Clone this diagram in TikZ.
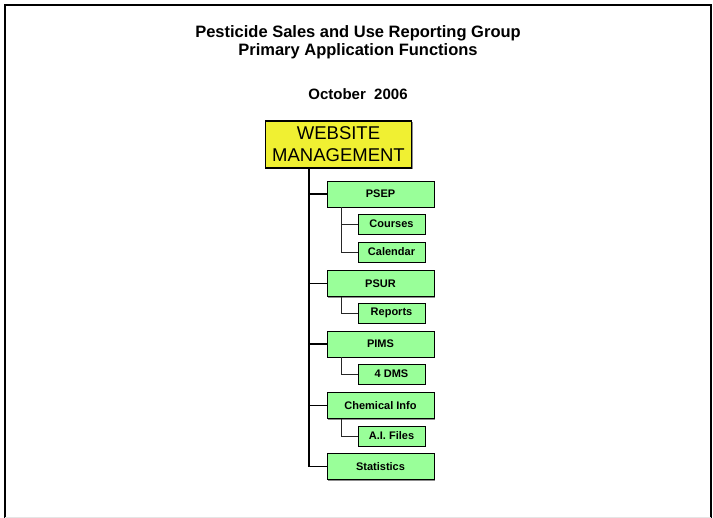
\documentclass[tikz,border=0pt]{standalone}
\usepackage{fontspec}
\setmainfont{Liberation Sans}
\usetikzlibrary{shadows}
\definecolor{boxgreen}{RGB}{153,255,153}
\definecolor{boxyellow}{RGB}{240,240,50}
\tikzset{
  shadowed/.style={drop shadow={shadow xshift=1.2pt,shadow yshift=-1.2pt,fill=black!45,opacity=1}},
  lvlone/.style={draw=black,line width=0.9pt,fill=boxgreen,shadowed,minimum width=107pt,minimum height=26pt,inner sep=0pt,font=\fontsize{11}{13}\selectfont\bfseries},
  lvltwo/.style={draw=black,line width=0.9pt,fill=boxgreen,shadowed,minimum width=67pt,minimum height=20pt,inner sep=0pt,font=\fontsize{11}{13}\selectfont\bfseries},
  topbox/.style={draw=black,line width=1.6pt,fill=boxyellow,shadowed,minimum width=146pt,minimum height=47pt,inner sep=0pt,align=center,font=\fontsize{18.5}{22}\selectfont},
  trunk/.style={line width=1.8pt,black},
  branch/.style={line width=0.9pt,black!85},
  titletext/.style={font=\fontsize{16.5}{18}\selectfont\bfseries,align=center,inner sep=0pt}
}
\begin{document}
\begin{tikzpicture}[x=1pt,y=-1pt]
\useasboundingbox (0,0) rectangle (713,518);
% frame
\draw[line width=1.8pt,black] (5,518) -- (5,5) -- (711,5) -- (711,518);
\draw[line width=0.8pt,black!10] (5,517) -- (711,517);
% titles
\node[titletext] (title) at (358,42) {Pesticide Sales and Use Reporting Group\\Primary Application Functions};
\node[font=\fontsize{15}{17}\selectfont\bfseries,inner sep=0pt] (date) at (358,94) {October\ \ 2006};
% boxes
\node[topbox] (web) at (338.5,144.5) {WEBSITE\\MANAGEMENT};
\node[lvlone] (psep) at (380.5,194) {PSEP};
\node[lvltwo] (courses) at (391.5,224) {Courses};
\node[lvltwo] (calendar) at (391.5,252) {Calendar};
\node[lvlone] (psur) at (380.5,283.5) {PSUR};
\node[lvltwo] (reports) at (391.5,313) {Reports};
\node[lvlone] (pims) at (380.5,344) {PIMS};
\node[lvltwo] (dms) at (391.5,374) {4 DMS};
\node[lvlone] (chem) at (380.5,405.5) {Chemical Info};
\node[lvltwo] (aifiles) at (391.5,436) {A.I. Files};
\node[lvlone] (stats) at (380.5,466.5) {Statistics};
% trunk
\coordinate (tk) at ([xshift=-29.5pt]web.south);
\draw[trunk] (tk) |- (stats.west);
\foreach \n in {psep,psur,pims,chem}
  \draw[trunk] (tk |- \n.west) -- (\n.west);
% sub connectors
\draw[branch] ([xshift=15pt]psep.south west) |- (courses.west);
\draw[branch] ([xshift=15pt]psep.south west) |- (calendar.west);
\draw[branch] ([xshift=15pt]psur.south west) |- (reports.west);
\draw[branch] ([xshift=15pt]pims.south west) |- (dms.west);
\draw[branch] ([xshift=15pt]chem.south west) |- (aifiles.west);
\end{tikzpicture}
\end{document}
